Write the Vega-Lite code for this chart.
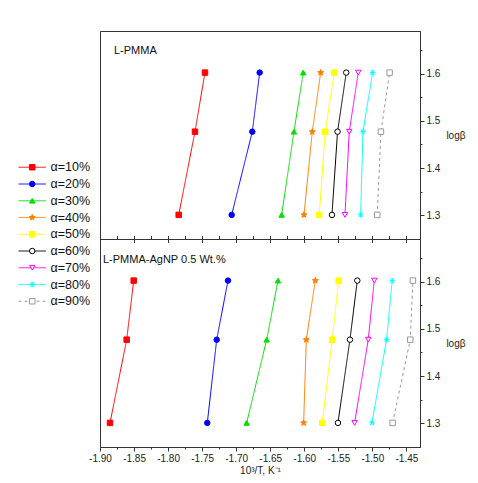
{
  "$schema": "https://vega.github.io/schema/vega-lite/v6.json",
  "background": "white",
  "padding": {"left": 26, "top": 30, "right": 5, "bottom": 5},
  "autosize": {"type": "pad"},
  "config": {
    "font": "Liberation Sans",
    "view": {"stroke": "#333", "strokeWidth": 1},
    "axis": {"grid": false, "domainColor": "#333", "tickColor": "#333", "labelColor": "#222", "titleColor": "#222", "labelFont": "Liberation Sans", "titleFont": "Liberation Sans", "labelFlush": false, "labelOverlap": false}
  },
  "datasets": {
    "d": [
      {"sample": "L-PMMA", "alpha": "α=10%", "x": -1.7844, "logb": 1.301},
      {"sample": "L-PMMA", "alpha": "α=10%", "x": -1.7605, "logb": 1.477},
      {"sample": "L-PMMA", "alpha": "α=10%", "x": -1.7458, "logb": 1.602},
      {"sample": "L-PMMA", "alpha": "α=20%", "x": -1.7066, "logb": 1.301},
      {"sample": "L-PMMA", "alpha": "α=20%", "x": -1.6763, "logb": 1.477},
      {"sample": "L-PMMA", "alpha": "α=20%", "x": -1.6655, "logb": 1.602},
      {"sample": "L-PMMA", "alpha": "α=30%", "x": -1.6332, "logb": 1.301},
      {"sample": "L-PMMA", "alpha": "α=30%", "x": -1.6151, "logb": 1.477},
      {"sample": "L-PMMA", "alpha": "α=30%", "x": -1.6015, "logb": 1.602},
      {"sample": "L-PMMA", "alpha": "α=40%", "x": -1.6004, "logb": 1.301},
      {"sample": "L-PMMA", "alpha": "α=40%", "x": -1.5882, "logb": 1.477},
      {"sample": "L-PMMA", "alpha": "α=40%", "x": -1.5759, "logb": 1.602},
      {"sample": "L-PMMA", "alpha": "α=50%", "x": -1.5780, "logb": 1.301},
      {"sample": "L-PMMA", "alpha": "α=50%", "x": -1.5692, "logb": 1.477},
      {"sample": "L-PMMA", "alpha": "α=50%", "x": -1.5559, "logb": 1.602},
      {"sample": "L-PMMA", "alpha": "α=60%", "x": -1.5593, "logb": 1.301},
      {"sample": "L-PMMA", "alpha": "α=60%", "x": -1.5511, "logb": 1.477},
      {"sample": "L-PMMA", "alpha": "α=60%", "x": -1.5383, "logb": 1.602},
      {"sample": "L-PMMA", "alpha": "α=70%", "x": -1.5402, "logb": 1.301},
      {"sample": "L-PMMA", "alpha": "α=70%", "x": -1.5339, "logb": 1.477},
      {"sample": "L-PMMA", "alpha": "α=70%", "x": -1.5207, "logb": 1.602},
      {"sample": "L-PMMA", "alpha": "α=80%", "x": -1.5172, "logb": 1.301},
      {"sample": "L-PMMA", "alpha": "α=80%", "x": -1.5138, "logb": 1.477},
      {"sample": "L-PMMA", "alpha": "α=80%", "x": -1.4995, "logb": 1.602},
      {"sample": "L-PMMA", "alpha": "α=90%", "x": -1.4928, "logb": 1.301},
      {"sample": "L-PMMA", "alpha": "α=90%", "x": -1.4874, "logb": 1.477},
      {"sample": "L-PMMA", "alpha": "α=90%", "x": -1.4746, "logb": 1.602},
      {"sample": "L-PMMA-AgNP", "alpha": "α=10%", "x": -1.8853, "logb": 1.301},
      {"sample": "L-PMMA-AgNP", "alpha": "α=10%", "x": -1.8608, "logb": 1.477},
      {"sample": "L-PMMA-AgNP", "alpha": "α=10%", "x": -1.8505, "logb": 1.602},
      {"sample": "L-PMMA-AgNP", "alpha": "α=20%", "x": -1.7424, "logb": 1.301},
      {"sample": "L-PMMA-AgNP", "alpha": "α=20%", "x": -1.7286, "logb": 1.477},
      {"sample": "L-PMMA-AgNP", "alpha": "α=20%", "x": -1.7120, "logb": 1.602},
      {"sample": "L-PMMA-AgNP", "alpha": "α=30%", "x": -1.6846, "logb": 1.301},
      {"sample": "L-PMMA-AgNP", "alpha": "α=30%", "x": -1.6552, "logb": 1.477},
      {"sample": "L-PMMA-AgNP", "alpha": "α=30%", "x": -1.6386, "logb": 1.602},
      {"sample": "L-PMMA-AgNP", "alpha": "α=40%", "x": -1.6009, "logb": 1.301},
      {"sample": "L-PMMA-AgNP", "alpha": "α=40%", "x": -1.5970, "logb": 1.477},
      {"sample": "L-PMMA-AgNP", "alpha": "α=40%", "x": -1.5838, "logb": 1.602},
      {"sample": "L-PMMA-AgNP", "alpha": "α=50%", "x": -1.5736, "logb": 1.301},
      {"sample": "L-PMMA-AgNP", "alpha": "α=50%", "x": -1.5589, "logb": 1.477},
      {"sample": "L-PMMA-AgNP", "alpha": "α=50%", "x": -1.5495, "logb": 1.602},
      {"sample": "L-PMMA-AgNP", "alpha": "α=60%", "x": -1.5505, "logb": 1.301},
      {"sample": "L-PMMA-AgNP", "alpha": "α=60%", "x": -1.5329, "logb": 1.477},
      {"sample": "L-PMMA-AgNP", "alpha": "α=60%", "x": -1.5221, "logb": 1.602},
      {"sample": "L-PMMA-AgNP", "alpha": "α=70%", "x": -1.5261, "logb": 1.301},
      {"sample": "L-PMMA-AgNP", "alpha": "α=70%", "x": -1.5060, "logb": 1.477},
      {"sample": "L-PMMA-AgNP", "alpha": "α=70%", "x": -1.4972, "logb": 1.602},
      {"sample": "L-PMMA-AgNP", "alpha": "α=80%", "x": -1.5006, "logb": 1.301},
      {"sample": "L-PMMA-AgNP", "alpha": "α=80%", "x": -1.4791, "logb": 1.477},
      {"sample": "L-PMMA-AgNP", "alpha": "α=80%", "x": -1.4708, "logb": 1.602},
      {"sample": "L-PMMA-AgNP", "alpha": "α=90%", "x": -1.4702, "logb": 1.301},
      {"sample": "L-PMMA-AgNP", "alpha": "α=90%", "x": -1.4443, "logb": 1.477},
      {"sample": "L-PMMA-AgNP", "alpha": "α=90%", "x": -1.4404, "logb": 1.602}
    ]
  },
  "spacing": 0,
  "bounds": "flush",
  "vconcat": [
    {
      "width": 320,
      "height": 208,
      "title": {"text": "L-PMMA", "anchor": "start", "frame": "group", "dx": 14, "offset": -31, "baseline": "middle", "fontSize": 11, "fontWeight": "normal", "font": "Liberation Sans", "color": "#111"},
      "data": {"name": "d"},
      "transform": [{"filter": "datum.sample === 'L-PMMA'"}],
      "encoding": {
        "x": {"field": "x", "type": "quantitative", "scale": {"domain": [-1.9, -1.43], "nice": false, "zero": false},
          "axis": {"orient": "bottom", "values": [-1.9, -1.875, -1.85, -1.825, -1.8, -1.775, -1.75, -1.725, -1.7, -1.675, -1.65, -1.625, -1.6, -1.575, -1.55, -1.525, -1.5, -1.475, -1.45], "labels": false, "domain": false, "offset": -3.5, "title": null,
            "tickSize": {"condition": {"test": "abs(datum.value*20 - round(datum.value*20)) < 0.01", "value": 7}, "value": 3.5}}},
        "y": {"field": "logb", "type": "quantitative", "scale": {"domain": [1.25, 1.69], "nice": false, "zero": false},
          "axis": {"orient": "right", "values": [1.3, 1.35, 1.4, 1.45, 1.5, 1.55, 1.6, 1.65],
            "tickSize": {"condition": {"test": "abs(datum.value*10 - round(datum.value*10)) < 0.01", "value": 4}, "value": 2},
            "labelExpr": "abs(datum.value*10 - round(datum.value*10)) < 0.01 ? format(datum.value, '.1f') : ''",
            "labelPadding": 2, "labelFontSize": 10, "title": "logβ", "titleAngle": 0, "titleAlign": "left", "titleBaseline": "middle", "titlePadding": 6, "titleFontSize": 10, "titleFontWeight": "normal"}}
      },
      "layer": [
        {
          "mark": {"type": "line", "strokeWidth": 1},
          "encoding": {
            "color": {"field": "alpha", "type": "nominal",
              "scale": {"domain": ["α=10%", "α=20%", "α=30%", "α=40%", "α=50%", "α=60%", "α=70%", "α=80%", "α=90%"], "range": ["#ff0000", "#0000ff", "#00e000", "#ff8000", "#ffff00", "#000000", "#ff00ff", "#00ffff", "#999999"]},
              "legend": {"orient": "none", "legendX": -74, "legendY": 130, "title": null, "padding": 0, "symbolType": "M-5,0H5", "symbolSize": 30, "symbolStrokeWidth": 1, "labelFontSize": 12.5, "labelOffset": 12, "rowPadding": 3.75, "labelColor": "#111", "labelFont": "Liberation Sans"}},
            "strokeDash": {"field": "alpha", "type": "nominal",
              "scale": {"domain": ["α=10%", "α=20%", "α=30%", "α=40%", "α=50%", "α=60%", "α=70%", "α=80%", "α=90%"], "range": [[1, 0], [1, 0], [1, 0], [1, 0], [1, 0], [1, 0], [1, 0], [1, 0], [3, 3]]},
              "legend": {"orient": "none", "legendX": -74, "legendY": 130, "title": null, "padding": 0, "symbolType": "M-5,0H5", "symbolSize": 30, "symbolStrokeWidth": 1, "labelFontSize": 12.5, "labelOffset": 12, "rowPadding": 3.75, "labelColor": "#111", "labelFont": "Liberation Sans"}},
            "order": {"field": "logb", "type": "quantitative"}
          }
        },
        {
          "mark": {"type": "point", "size": 30, "opacity": 1, "strokeWidth": 1},
          "encoding": {
            "shape": {"field": "alpha", "type": "nominal",
              "scale": {"range": ["square", "circle", "triangle-up", "M0,-1.15L0.27,-0.37L1.1,-0.36L0.44,0.14L0.68,0.93L0,0.46L-0.68,0.93L-0.44,0.14L-1.1,-0.36L-0.27,-0.37Z", "square", "circle", "triangle-down", "M-1,0H1M0,-1V1M-0.75,-0.75L0.75,0.75M-0.75,0.75L0.75,-0.75", "square"]},
              "legend": {"orient": "none", "legendX": -74, "legendY": 130, "title": null, "padding": 0, "symbolSize": 30, "symbolStrokeWidth": 1, "symbolOpacity": 1, "labelFontSize": 12.5, "labelOffset": 12, "rowPadding": 3.75, "labelOpacity": 0}},
            "stroke": {"field": "alpha", "type": "nominal",
              "scale": {"range": ["#ff0000", "#0000ff", "#00e000", "#ff8000", "#ffff00", "#000000", "#ff00ff", "#00ffff", "#999999"]},
              "legend": {"orient": "none", "legendX": -74, "legendY": 130, "title": null, "padding": 0, "symbolSize": 30, "symbolStrokeWidth": 1, "symbolOpacity": 1, "labelFontSize": 12.5, "labelOffset": 12, "rowPadding": 3.75, "labelOpacity": 0}},
            "fill": {"field": "alpha", "type": "nominal",
              "scale": {"range": ["#ff0000", "#0000ff", "#00e000", "#ff8000", "#ffff00", "#ffffff", "#ffffff", "#00ffff", "#ffffff"]},
              "legend": {"orient": "none", "legendX": -74, "legendY": 130, "title": null, "padding": 0, "symbolSize": 30, "symbolStrokeWidth": 1, "symbolOpacity": 1, "labelFontSize": 12.5, "labelOffset": 12, "rowPadding": 3.75, "labelOpacity": 0}}
          }
        }
      ]
    },
    {
      "width": 320,
      "height": 208,
      "title": {"text": "L-PMMA-AgNP 0.5 Wt.%", "anchor": "start", "frame": "group", "dx": 3, "offset": -32, "baseline": "middle", "fontSize": 11, "fontWeight": "normal", "font": "Liberation Sans", "color": "#111"},
      "data": {"name": "d"},
      "transform": [{"filter": "datum.sample === 'L-PMMA-AgNP'"}],
      "encoding": {
        "x": {"field": "x", "type": "quantitative", "scale": {"domain": [-1.9, -1.43], "nice": false, "zero": false},
          "axis": {"orient": "bottom", "values": [-1.9, -1.875, -1.85, -1.825, -1.8, -1.775, -1.75, -1.725, -1.7, -1.675, -1.65, -1.625, -1.6, -1.575, -1.55, -1.525, -1.5, -1.475, -1.45],
            "tickSize": {"condition": {"test": "abs(datum.value*20 - round(datum.value*20)) < 0.01", "value": 4}, "value": 2},
            "labelExpr": "abs(datum.value*20 - round(datum.value*20)) < 0.01 ? '-' + format(abs(datum.value), '.2f') : ''",
            "labelPadding": 2, "labelFontSize": 10, "title": "10³/T, K⁻¹", "titleFontSize": 10, "titleFontWeight": "normal", "titlePadding": 2}},
        "y": {"field": "logb", "type": "quantitative", "scale": {"domain": [1.25, 1.69], "nice": false, "zero": false},
          "axis": {"orient": "right", "values": [1.3, 1.35, 1.4, 1.45, 1.5, 1.55, 1.6, 1.65],
            "tickSize": {"condition": {"test": "abs(datum.value*10 - round(datum.value*10)) < 0.01", "value": 4}, "value": 2},
            "labelExpr": "abs(datum.value*10 - round(datum.value*10)) < 0.01 ? format(datum.value, '.1f') : ''",
            "labelPadding": 2, "labelFontSize": 10, "title": "logβ", "titleAngle": 0, "titleAlign": "left", "titleBaseline": "middle", "titlePadding": 6, "titleFontSize": 10, "titleFontWeight": "normal"}}
      },
      "layer": [
        {
          "mark": {"type": "line", "strokeWidth": 1},
          "encoding": {
            "color": {"field": "alpha", "type": "nominal", "legend": null},
            "strokeDash": {"field": "alpha", "type": "nominal", "legend": null},
            "order": {"field": "logb", "type": "quantitative"}
          }
        },
        {
          "mark": {"type": "point", "size": 30, "opacity": 1, "strokeWidth": 1},
          "encoding": {
            "shape": {"field": "alpha", "type": "nominal", "legend": null},
            "stroke": {"field": "alpha", "type": "nominal", "legend": null},
            "fill": {"field": "alpha", "type": "nominal", "legend": null}
          }
        }
      ]
    }
  ]
}
